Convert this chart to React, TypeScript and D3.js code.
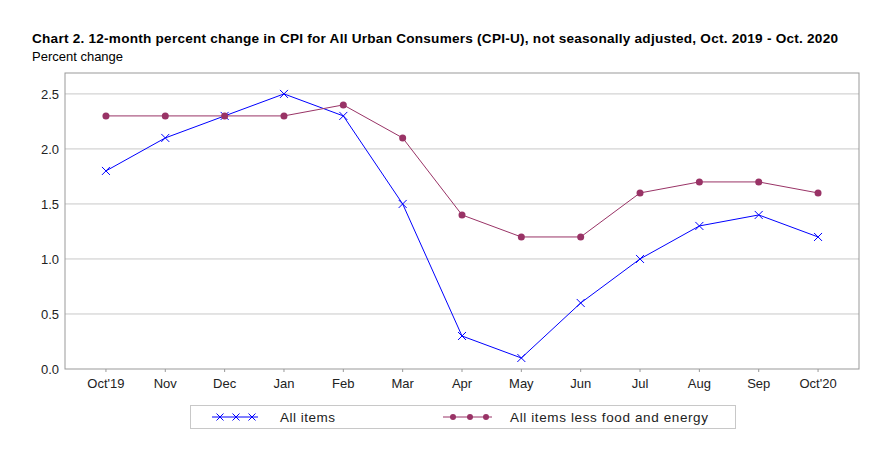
import * as d3 from "d3";

const months = ["Oct'19", "Nov", "Dec", "Jan", "Feb", "Mar", "Apr", "May", "Jun", "Jul", "Aug", "Sep", "Oct'20"];
const allItems = [1.8, 2.1, 2.3, 2.5, 2.3, 1.5, 0.3, 0.1, 0.6, 1.0, 1.3, 1.4, 1.2];
const coreItems = [2.3, 2.3, 2.3, 2.3, 2.4, 2.1, 1.4, 1.2, 1.2, 1.6, 1.7, 1.7, 1.6];
const yTicks = [0, 0.5, 1.0, 1.5, 2.0, 2.5];

const W = 877;
const H = 454;
const plot = { left: 65, right: 859, top: 73, bottom: 369 };
const font = "Arial, 'Liberation Sans', sans-serif";
const blue = "#0000ff";
const purple = "#993366";

export default function App() {
  const x = d3.scalePoint<string>().domain(months).range([plot.left, plot.right]).padding(0.69);
  const y = d3.scaleLinear().domain([0, 2.69]).range([plot.bottom, plot.top]);

  const line = d3
    .line<number>()
    .x((_, i) => x(months[i]) as number)
    .y((d) => y(d));

  return (
    <svg width={W} height={H} style={{ position: "absolute", left: 0, top: 0 }} fontFamily={font}>
      <rect width={W} height={H} fill="#fff" />
      <text x={32} y={43} fontSize={13.6} fontWeight="bold" fill="#000" textLength={806} lengthAdjust="spacing">
        Chart 2. 12-month percent change in CPI for All Urban Consumers (CPI-U), not seasonally adjusted, Oct. 2019 - Oct. 2020
      </text>
      <text x={32} y={61} fontSize={13} fill="#000">
        Percent change
      </text>

      {yTicks.map((t) => (
        <g key={t}>
          {t > 0 && (
            <line x1={plot.left} x2={plot.right} y1={y(t)} y2={y(t)} stroke="#c8c8c8" strokeWidth={1} />
          )}
          <text x={59} y={y(t) + 5} fontSize={13} textAnchor="end" fill="#222">
            {t.toFixed(1)}
          </text>
        </g>
      ))}

      <rect
        x={plot.left}
        y={plot.top}
        width={plot.right - plot.left}
        height={plot.bottom - plot.top}
        fill="none"
        stroke="#999"
        strokeWidth={1}
      />

      {months.map((m) => (
        <g key={m}>
          <line x1={x(m)} x2={x(m)} y1={plot.bottom} y2={plot.bottom + 3} stroke="#999" />
          <text x={x(m)} y={388} fontSize={13} textAnchor="middle" fill="#222">
            {m}
          </text>
        </g>
      ))}

      <path d={line(allItems) || ""} fill="none" stroke={blue} strokeWidth={1} />
      {allItems.map((v, i) => {
        const cx = x(months[i]) as number;
        const cy = y(v);
        return (
          <g key={"a" + i} stroke={blue} strokeWidth={1}>
            <line x1={cx - 4} x2={cx + 4} y1={cy - 4} y2={cy + 4} />
            <line x1={cx - 4} x2={cx + 4} y1={cy + 4} y2={cy - 4} />
          </g>
        );
      })}

      <path d={line(coreItems) || ""} fill="none" stroke={purple} strokeWidth={1} />
      {coreItems.map((v, i) => (
        <circle key={"c" + i} cx={x(months[i]) as number} cy={y(v)} r={3.5} fill={purple} />
      ))}

      {/* legend */}
      <rect x={190.5} y={405.5} width={545} height={23} fill="#fff" stroke="#c8c8c8" />
      <line x1={212} x2={258} y1={417} y2={417} stroke={blue} />
      {[220, 236, 252].map((cx) => (
        <g key={cx} stroke={blue}>
          <line x1={cx - 3.5} x2={cx + 3.5} y1={413.5} y2={420.5} />
          <line x1={cx - 3.5} x2={cx + 3.5} y1={420.5} y2={413.5} />
        </g>
      ))}
      <text x={280} y={422} fontSize={13.5} fill="#222" textLength={55} lengthAdjust="spacing">
        All items
      </text>
      <line x1={443} x2={492} y1={417} y2={417} stroke={purple} />
      {[453, 470, 486].map((cx) => (
        <circle key={cx} cx={cx} cy={417} r={3} fill={purple} />
      ))}
      <text x={510} y={422} fontSize={13.5} fill="#222" textLength={198} lengthAdjust="spacing">
        All items less food and energy
      </text>
    </svg>
  );
}
